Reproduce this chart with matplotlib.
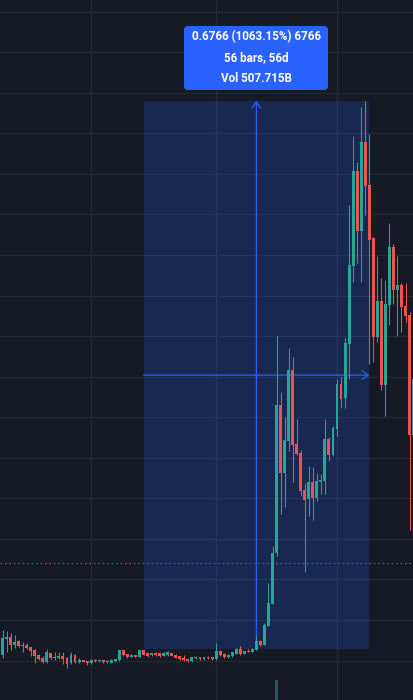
import numpy as np
import matplotlib
matplotlib.use("Agg")
import matplotlib.pyplot as plt
from matplotlib.patches import FancyBboxPatch, Rectangle
from matplotlib.transforms import IdentityTransform

# =====================================================
# DATA (daily candles, price in USD)
# =====================================================

opens = [0.0567, 0.0764, 0.0789, 0.0690, 0.0740, 0.0678, 0.0690, 0.0666, 0.0629, 0.0567,
         0.0530, 0.0481, 0.0592, 0.0543, 0.0530, 0.0555, 0.0530, 0.0469, 0.0567, 0.0481,
         0.0506, 0.0493, 0.0469, 0.0506, 0.0493, 0.0506, 0.0493, 0.0475, 0.0493, 0.0506,
         0.0629, 0.0580, 0.0546, 0.0567, 0.0546, 0.0629, 0.0592, 0.0567, 0.0592, 0.0592,
         0.0561, 0.0567, 0.0592, 0.0573, 0.0551, 0.0536, 0.0518, 0.0493, 0.0530, 0.0543,
         0.0518, 0.0546, 0.0543, 0.0518, 0.0620, 0.0583, 0.0543, 0.0555, 0.0583, 0.0645,
         0.0583, 0.0620, 0.0608, 0.0633, 0.0743, 0.0694, 0.0928, 0.1200, 0.1822, 0.3650,
         0.2816, 0.3206, 0.4082, 0.3170, 0.3059, 0.2602, 0.2495, 0.2701, 0.2507, 0.2701,
         0.2717, 0.3231, 0.3038, 0.3354, 0.3909, 0.3740, 0.4406, 0.5368, 0.6536, 0.5800,
         0.6893, 0.6363, 0.5706, 0.4493, 0.4933, 0.3901, 0.4887, 0.5599, 0.5072, 0.5130,
         0.4871, 0.4760, 0.3284]
highs = [0.0875, 0.0863, 0.0838, 0.0814, 0.0752, 0.0727, 0.0715, 0.0666, 0.0641, 0.0580,
         0.0555, 0.0641, 0.0592, 0.0604, 0.0604, 0.0604, 0.0543, 0.0604, 0.0580, 0.0530,
         0.0512, 0.0493, 0.0518, 0.0518, 0.0518, 0.0506, 0.0506, 0.0518, 0.0524, 0.0629,
         0.0629, 0.0580, 0.0580, 0.0573, 0.0629, 0.0635, 0.0598, 0.0598, 0.0604, 0.0598,
         0.0604, 0.0617, 0.0598, 0.0586, 0.0561, 0.0567, 0.0524, 0.0549, 0.0559, 0.0549,
         0.0549, 0.0559, 0.0549, 0.0715, 0.0633, 0.0592, 0.0580, 0.0610, 0.0653, 0.0678,
         0.0623, 0.0641, 0.0653, 0.0801, 0.0756, 0.0965, 0.1455, 0.1911, 0.4501, 0.3811,
         0.3499, 0.4353, 0.4242, 0.3478, 0.3096, 0.2685, 0.2898, 0.2890, 0.2816, 0.2800,
         0.3478, 0.3256, 0.3392, 0.3971, 0.3996, 0.4477, 0.6116, 0.6967, 0.6643, 0.7321,
         0.7399, 0.6988, 0.5718, 0.5488, 0.5216, 0.5192, 0.5895, 0.5632, 0.5488, 0.5158,
         0.5158, 0.4797, 0.4057]
lows = [0.0530, 0.0604, 0.0629, 0.0653, 0.0672, 0.0604, 0.0647, 0.0555, 0.0469, 0.0506,
        0.0475, 0.0475, 0.0524, 0.0506, 0.0524, 0.0456, 0.0407, 0.0456, 0.0475, 0.0475,
        0.0481, 0.0444, 0.0462, 0.0487, 0.0487, 0.0469, 0.0475, 0.0469, 0.0487, 0.0499,
        0.0555, 0.0536, 0.0543, 0.0543, 0.0543, 0.0567, 0.0539, 0.0561, 0.0561, 0.0549,
        0.0555, 0.0561, 0.0555, 0.0530, 0.0512, 0.0499, 0.0487, 0.0487, 0.0524, 0.0512,
        0.0512, 0.0524, 0.0502, 0.0512, 0.0561, 0.0536, 0.0536, 0.0549, 0.0580, 0.0567,
        0.0580, 0.0604, 0.0604, 0.0629, 0.0678, 0.0690, 0.0925, 0.1196, 0.1789, 0.2310,
        0.2396, 0.3087, 0.2705, 0.3040, 0.2532, 0.1595, 0.2285, 0.2236, 0.2470, 0.2557,
        0.2557, 0.2956, 0.3025, 0.3272, 0.3617, 0.3617, 0.3975, 0.5171, 0.5405, 0.5171,
        0.5993, 0.4160, 0.4184, 0.4431, 0.3832, 0.3518, 0.4641, 0.4900, 0.4505, 0.4554,
        0.4678, 0.2113, 0.3219]
closes = [0.0777, 0.0789, 0.0690, 0.0727, 0.0678, 0.0690, 0.0653, 0.0617, 0.0555, 0.0518,
          0.0481, 0.0604, 0.0530, 0.0530, 0.0555, 0.0518, 0.0456, 0.0567, 0.0481, 0.0506,
          0.0487, 0.0469, 0.0506, 0.0493, 0.0506, 0.0481, 0.0481, 0.0506, 0.0518, 0.0629,
          0.0567, 0.0543, 0.0567, 0.0546, 0.0629, 0.0573, 0.0555, 0.0592, 0.0567, 0.0555,
          0.0592, 0.0604, 0.0559, 0.0534, 0.0518, 0.0506, 0.0493, 0.0543, 0.0546, 0.0518,
          0.0543, 0.0530, 0.0514, 0.0617, 0.0567, 0.0543, 0.0571, 0.0604, 0.0645, 0.0583,
          0.0617, 0.0608, 0.0645, 0.0743, 0.0690, 0.0937, 0.1208, 0.1825, 0.3650, 0.2816,
          0.3219, 0.4082, 0.3157, 0.3046, 0.2594, 0.2483, 0.2701, 0.2507, 0.2717, 0.2726,
          0.3231, 0.3038, 0.3367, 0.3909, 0.3728, 0.4415, 0.5377, 0.6536, 0.5800, 0.6893,
          0.6354, 0.5689, 0.4493, 0.4933, 0.3901, 0.4896, 0.5599, 0.5072, 0.5130, 0.4863,
          0.4752, 0.3284, 0.3975]

# only the tallest volume bar reaches into the visible area
vol_bar = [68]
vol_value = [1.45e11]

last_price = 0.1699

# price range tool
measure_bars = (35, 91)
measure_prices = (0.06364, 0.7402)
label_lines = ["0.6766 (1063.15%) 6766", "56 bars, 56d", "Vol 507.715B"]

time_grid = [22, 53, 83]
price_grid = np.arange(0.05, 0.86, 0.05)

# =====================================================
# STYLE
# =====================================================

BG = "#161a25"
GRID = "#252935"
UP = "#26a69a"
DOWN = "#ef5350"
BLUE = "#2962ff"

W, H = 414, 700
fig = plt.figure(figsize=(W / 100, H / 100), dpi=100, facecolor=BG)
ax = fig.add_axes([0, 0, 1, 1])
ax.set_facecolor(BG)

BAR_PX = 4.03
ax.set_xlim(-2.5 / BAR_PX, (W - 2.5) / BAR_PX)
ax.set_ylim(1.05 / 811, 701.05 / 811)
ax.set_axis_off()

for p in price_grid:
    ax.axhline(p, color=GRID, lw=0.9, zorder=0)
for t in time_grid:
    ax.axvline(t, color=GRID, lw=0.9, zorder=0)

# last price line
ax.axhline(last_price, color=UP, lw=0.8, ls=(0, (1.4, 2.6)), alpha=0.75, zorder=1)

# =====================================================
# MEASURE BOX
# =====================================================

b0, b1 = measure_bars
p0, p1 = measure_prices
ax.add_patch(Rectangle((b0, p0), b1 - b0, p1 - p0, facecolor=BLUE, alpha=0.2,
                       edgecolor="none", zorder=2))
mid_bar = (b0 + b1) / 2
mid_price = (p0 + p1) / 2
arrow = dict(arrowstyle="->,head_length=0.45,head_width=0.32", color=BLUE, lw=0.9,
             shrinkA=0, shrinkB=0, mutation_scale=10)
ax.annotate("", xy=(mid_bar, p1), xytext=(mid_bar, p0), arrowprops=arrow, zorder=3)
ax.annotate("", xy=(b1, mid_price), xytext=(b0, mid_price), arrowprops=arrow, zorder=3)

# =====================================================
# CANDLES
# =====================================================

o = np.array(opens)
h = np.array(highs)
l = np.array(lows)
c = np.array(closes)
x = np.arange(len(o))
cols = np.where(c >= o, UP, DOWN)

ax.vlines(x, l, h, colors=cols, lw=0.75, zorder=4)
body_lo = np.minimum(o, c)
body_h = np.maximum(np.abs(c - o), 1.2 / 811)
ax.bar(x, body_h, bottom=body_lo, width=0.72, color=cols, linewidth=0, zorder=5)

# volume overlay
vax = ax.twinx()
vax.set_axis_off()
vax.set_ylim(0, vol_value[0] * 35)
vax.bar(vol_bar, vol_value, width=0.72, color=UP, alpha=0.5, linewidth=0)

# =====================================================
# LABEL
# =====================================================

cx = 256
fig.patches.append(FancyBboxPatch((cx - 72, H - 90), 144, 64,
                                  boxstyle="round,pad=0,rounding_size=4",
                                  transform=IdentityTransform(),
                                  facecolor=BLUE, edgecolor="none", figure=fig))
for line, ypx in zip(label_lines, [37, 58, 78]):
    fig.text(cx, H - ypx, line, transform=IdentityTransform(), ha="center",
             va="center", color="white", fontsize=8.4, family="Roboto",
             fontweight="bold")

fig.savefig("out.png", dpi=100, facecolor=BG)
